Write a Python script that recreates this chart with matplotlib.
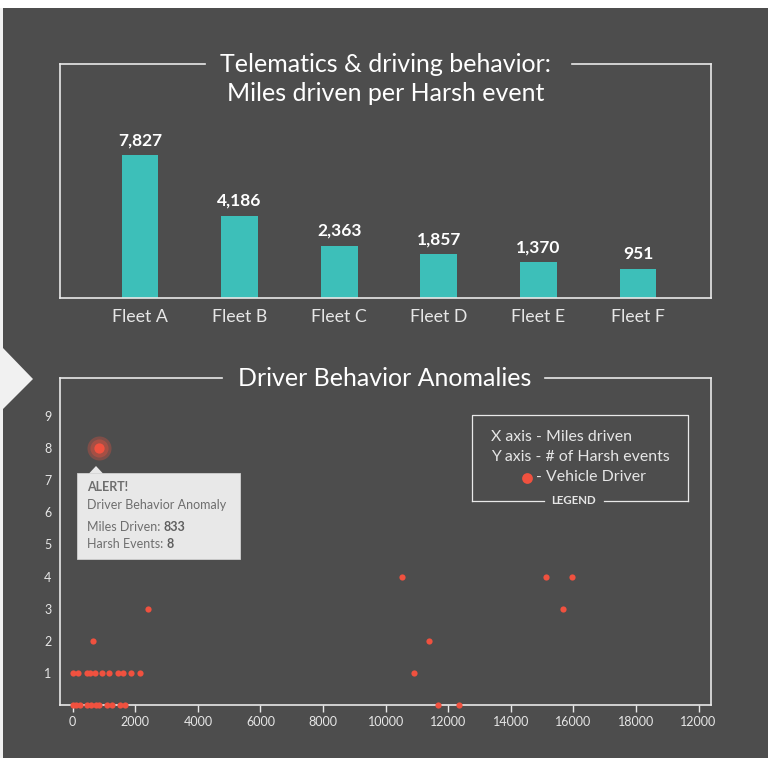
import matplotlib
matplotlib.use("Agg")
import matplotlib.pyplot as plt
from matplotlib.patches import Rectangle, Polygon

plt.rcParams['font.family'] = ['Lato', 'DejaVu Sans']

# ---------------- data ----------------
fleets = ["Fleet A", "Fleet B", "Fleet C", "Fleet D", "Fleet E", "Fleet F"]
miles_per_event = [7827, 4186, 2363, 1857, 1370, 951]

drivers_miles = [0, 105, 233, 467, 575, 735, 850, 1106, 1266, 1512, 1671,
                 19, 160, 447, 562, 703, 936, 1170, 1438, 1598, 1873, 2151,
                 658, 2416,
                 10534, 10918, 11387, 11685, 12356, 15136, 15957, 15680]
drivers_events = [0, 0, 0, 0, 0, 0, 0, 0, 0, 0, 0,
                  1, 1, 1, 1, 1, 1, 1, 1, 1, 1, 1,
                  2, 3,
                  4, 1, 2, 0, 0, 4, 4, 3]
alert_miles = 833
alert_events = 8

x_ticks = [0, 2000, 4000, 6000, 8000, 10000, 12000, 14000, 16000, 18000, 20000]
x_tick_labels = ["0", "2000", "4000", "6000", "8000", "10000", "12000",
                 "14000", "16000", "18000", "12000"]
y_ticks = [1, 2, 3, 4, 5, 6, 7, 8, 9]

# ---------------- style ----------------
BG = '#4d4d4d'
LINE = '#e9e9e9'
TXT = '#e6e6e6'
TEAL = '#3dbfb9'
RED = '#f0513f'
BAR_BASE = -776

W, H = 768, 758
fig = plt.figure(figsize=(W / 100, H / 100), dpi=100, facecolor='white')
fig.add_artist(Rectangle((0, 0), 3 / W, 1 - 8 / H, transform=fig.transFigure,
                         facecolor='#f1f1f1', edgecolor='none', zorder=0))
fig.add_artist(Rectangle((3 / W, 0), 1 - 3 / W, 1 - 8 / H, transform=fig.transFigure,
                         facecolor=BG, edgecolor='none', zorder=0))
fig.add_artist(Polygon([(3 / W, 1 - 348 / H), (33 / W, 1 - 379 / H), (3 / W, 1 - 409 / H)],
                       closed=True, transform=fig.transFigure,
                       facecolor='#f1f1f1', edgecolor='none', zorder=1))


def frame(ax, gap0, gap1):
    ax.set_facecolor('none')
    for s in ['left', 'right', 'bottom']:
        ax.spines[s].set_color(LINE)
        ax.spines[s].set_linewidth(1.2)
    ax.spines['top'].set_visible(False)
    ax.plot([0, gap0], [1, 1], color=LINE, lw=1.2, transform=ax.transAxes, clip_on=False)
    ax.plot([gap1, 1], [1, 1], color=LINE, lw=1.2, transform=ax.transAxes, clip_on=False)


# ---------------- top bar chart ----------------
ax1 = fig.add_axes([60 / W, 1 - 298 / H, 651 / W, 234 / H])
frame(ax1, 0.2227, 0.7865)
xs = list(range(len(fleets)))
heights = [v - BAR_BASE for v in miles_per_event]
ax1.bar(xs, heights, bottom=BAR_BASE, width=0.37, color=TEAL, zorder=2)
ax1.set_xlim(-0.803, 5.733)
ax1.set_ylim(BAR_BASE, BAR_BASE + 14105)
ax1.set_yticks([])
ax1.set_xticks(xs)
ax1.set_xticklabels(fleets, fontsize=12.8, color=TXT)
ax1.tick_params(axis='x', length=0, pad=8)
for x, v in zip(xs, miles_per_event):
    ax1.annotate(f"{v:,}", xy=(x, v), xytext=(0, 5), textcoords='offset points',
                 ha='center', va='bottom', fontsize=12.5, fontweight='bold', color='white')
ax1.text(0.5, 1.0, "Telematics & driving behavior:", transform=ax1.transAxes,
         ha='center', va='center', fontsize=18, color='white')
ax1.text(0.5, 0.872, "Miles driven per Harsh event", transform=ax1.transAxes,
         ha='center', va='center', fontsize=18, color='white')

# ---------------- bottom scatter ----------------
ax2 = fig.add_axes([60 / W, 1 - 705 / H, 651 / W, 327 / H])
frame(ax2, 0.2488, 0.7450)
ax2.set_xlim(-406, 20399)
ax2.set_ylim(0, 10.18)
ax2.scatter(drivers_miles, drivers_events, s=20, color=RED, zorder=3, clip_on=False,
            linewidths=0)
ax2.scatter([alert_miles], [alert_events], s=300, color=RED, alpha=0.3, zorder=3, linewidths=0)
ax2.scatter([alert_miles], [alert_events], s=170, color=RED, alpha=0.35, zorder=3, linewidths=0)
ax2.scatter([alert_miles], [alert_events], s=55, color=RED, zorder=4, linewidths=0)
ax2.set_xticks(x_ticks)
ax2.set_xticklabels(x_tick_labels, fontsize=9, color=TXT)
ax2.set_yticks(y_ticks)
ax2.set_yticklabels([str(t) for t in y_ticks], fontsize=9, color=TXT)
ax2.tick_params(axis='x', length=5, width=1, color=LINE, pad=3)
ax2.tick_params(axis='y', length=0, pad=6)
ax2.text(0.4992, 1.0, "Driver Behavior Anomalies", transform=ax2.transAxes,
         ha='center', va='center', fontsize=18, color='white')


def ax_xy(px, py):
    return ((px - 60) / 651, (705 - py) / 327)


# tooltip
bx0, by0 = ax_xy(77, 559)
bx1, by1 = ax_xy(240, 473)
ax2.add_patch(Rectangle((bx0, by0), bx1 - bx0, by1 - by0, transform=ax2.transAxes,
                        facecolor='#e8e8e8', edgecolor='#d0d0d0', lw=0.6, zorder=5))
ax2.add_patch(Polygon([ax_xy(89, 473.5), ax_xy(96, 466), ax_xy(103, 473.5)],
                      closed=True, transform=ax2.transAxes,
                      facecolor='#e8e8e8', edgecolor='none', zorder=6))
TT = '#6e6e6e'
tx = (87 - 60) / 651
ax2.text(tx, ax_xy(0, 487)[1], "ALERT!", transform=ax2.transAxes, ha='left', va='center',
         fontsize=9, fontweight='bold', color=TT, zorder=7)
ax2.text(tx, ax_xy(0, 505)[1], "Driver Behavior Anomaly", transform=ax2.transAxes,
         ha='left', va='center', fontsize=9, color=TT, zorder=7)
t1 = ax2.text(tx, ax_xy(0, 527)[1], "Miles Driven: ", transform=ax2.transAxes,
              ha='left', va='center', fontsize=9, color=TT, zorder=7)
ax2.annotate(f"{alert_miles}", xy=(1, 0.5), xycoords=t1, ha='left', va='center',
             fontsize=9, fontweight='bold', color='#5e5e5e', zorder=7)
t2 = ax2.text(tx, ax_xy(0, 544)[1], "Harsh Events: ", transform=ax2.transAxes,
              ha='left', va='center', fontsize=9, color=TT, zorder=7)
ax2.annotate(f"{alert_events}", xy=(1, 0.5), xycoords=t2, ha='left', va='center',
             fontsize=9, fontweight='bold', color='#5e5e5e', zorder=7)

# legend box
lx0, ly0 = ax_xy(472, 501)
lx1, ly1 = ax_xy(688, 415)
g0, g1 = (544 - 60) / 651, (604 - 60) / 651
kw = dict(color=LINE, lw=0.9, transform=ax2.transAxes, clip_on=False)
ax2.plot([lx0, lx0, lx1, lx1], [ly0, ly1, ly1, ly0], **kw)
ax2.plot([lx0, g0], [ly0, ly0], **kw)
ax2.plot([g1, lx1], [ly0, ly0], **kw)
ax2.text((574 - 60) / 651, ly0, "LEGEND", transform=ax2.transAxes, ha='center', va='center',
         fontsize=8.3, fontweight='bold', color=TXT)
ltx = (491 - 60) / 651
ax2.text(ltx, ax_xy(0, 437)[1], "X axis - Miles driven", transform=ax2.transAxes,
         ha='left', va='center', fontsize=11.4, color=TXT)
ax2.text(ltx, ax_xy(0, 457)[1], "Y axis - # of Harsh events", transform=ax2.transAxes,
         ha='left', va='center', fontsize=11.4, color=TXT)
ax2.scatter([(527 - 60) / 651], [ax_xy(0, 477.5)[1]], s=60, color=RED, transform=ax2.transAxes,
            linewidths=0, clip_on=False)
ax2.text((536 - 60) / 651, ax_xy(0, 477)[1], "- Vehicle Driver", transform=ax2.transAxes,
         ha='left', va='center', fontsize=11.4, color=TXT)

fig.savefig("out.png", dpi=100, facecolor=fig.get_facecolor())
